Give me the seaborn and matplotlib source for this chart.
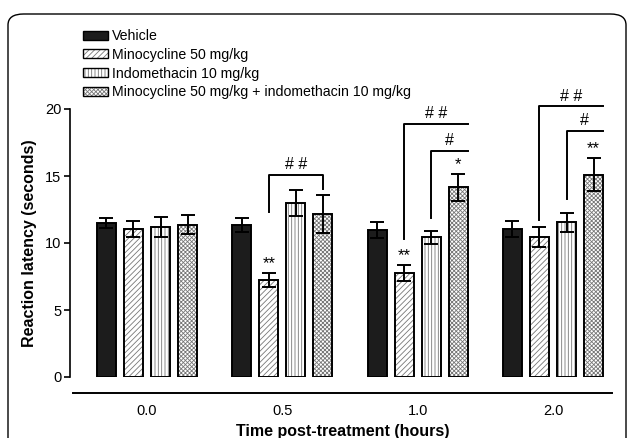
import matplotlib
matplotlib.use('Agg')
import matplotlib.pyplot as plt
import matplotlib.patches as mpatches
from matplotlib.colors import to_rgba
import numpy as np
import pandas as pd
import seaborn as sns

times = ['0.0', '0.5', '1.0', '2.0']
treatments = [
    'Vehicle',
    'Minocycline 50 mg/kg',
    'Indomethacin 10 mg/kg',
    'Minocycline 50 mg/kg + indomethacin 10 mg/kg',
]
vehicle = [11.5, 11.35, 10.98, 11.02]
vehicle_sem = [0.4, 0.5, 0.57, 0.6]
minocycline = [11.05, 7.25, 7.75, 10.45]
minocycline_sem = [0.62, 0.5, 0.6, 0.72]
indomethacin = [11.22, 12.97, 10.42, 11.55]
indomethacin_sem = [0.75, 0.95, 0.5, 0.72]
combination = [11.37, 12.15, 14.17, 15.1]
combination_sem = [0.7, 1.4, 1.0, 1.22]

# significance marks: (time index, treatment index, label)
stars = [(1, 1, '**'), (2, 1, '**'), (2, 3, '*'), (3, 3, '**')]
# brackets: (time index, from treatment, to treatment, line y, left leg bottom,
#            right leg bottom or None, label)
brackets = [
    (1, 1, 3, 15.1, 12.3, 14.0, '# #'),
    (2, 1, 3, 18.9, 10.3, None, '# #'),
    (2, 2, 3, 16.9, 11.85, None, '#'),
    (3, 1, 3, 20.2, 11.75, None, '# #'),
    (3, 2, 3, 18.35, 13.3, None, '#'),
]

colors = ['#1c1c1c', 'white', 'white', 'white']
hatches = ['', '//////', '|||||', 'xxxxxxxx']

plt.rcParams['font.family'] = ['Liberation Sans', 'DejaVu Sans']
plt.rcParams['hatch.linewidth'] = 0.6

rows = []
for t_i, t in enumerate(times):
    for k, (name, vals, errs) in enumerate(zip(
            treatments,
            [vehicle, minocycline, indomethacin, combination],
            [vehicle_sem, minocycline_sem, indomethacin_sem, combination_sem])):
        rows.append({'time': t, 'treatment': name,
                     'latency': vals[t_i], 'sem': errs[t_i]})
df = pd.DataFrame(rows)

fig = plt.figure(figsize=(6.27, 4.38), dpi=100)
ax = fig.add_axes([73 / 627, 1 - 377 / 438, (612 - 73) / 627, (377 - 109) / 438])

sns.barplot(data=df, x='time', y='latency', hue='treatment',
            hue_order=treatments, palette=colors, gap=0.3, width=0.8,
            errorbar=None, edgecolor='black', linewidth=1.4,
            legend=False, ax=ax)

bar_containers = list(ax.containers)
bar_x = {}
for k, container in enumerate(bar_containers):
    for t_i, bar in enumerate(container):
        bar.set_hatch(hatches[k])
        bar._hatch_color = to_rgba('#777777')
        bar_x[(t_i, k)] = (bar.get_x(), bar.get_width())
    sub = df[df['treatment'] == treatments[k]]
    xs = [bar.get_x() + bar.get_width() / 2 for bar in container]
    ax.errorbar(xs, sub['latency'], yerr=sub['sem'], fmt='none',
                ecolor='black', elinewidth=1.4, capsize=5, capthick=1.4,
                zorder=5)

def bar_center(t_i, k):
    x, w = bar_x[(t_i, k)]
    return x + w / 2

for t_i, k, label in stars:
    top = df[(df['time'] == times[t_i]) & (df['treatment'] == treatments[k])]
    y = top['latency'].iloc[0] + top['sem'].iloc[0]
    ax.text(bar_center(t_i, k), y + 0.15, label, ha='center', va='bottom',
            fontsize=12)

for t_i, k0, k1, y, leg0, leg1, label in brackets:
    x0 = bar_center(t_i, k0)
    if leg1 is None:
        x1 = bar_x[(t_i, k1)][0] + bar_x[(t_i, k1)][1]
        ax.plot([x0, x0, x1], [leg0, y, y], color='black', lw=1.4,
                clip_on=False)
    else:
        x1 = bar_center(t_i, k1)
        ax.plot([x0, x0, x1, x1], [leg0, y, y, leg1], color='black',
                lw=1.4, clip_on=False)
    ax.text((x0 + x1) / 2, y + 0.2, label, ha='center', va='bottom',
            fontsize=11.5, clip_on=False)

ax.set_ylim(0, 20)
ax.set_xlim(-0.547, 3.436)
ax.set_yticks([0, 5, 10, 15, 20])
for side in ['top', 'right']:
    ax.spines[side].set_visible(False)
ax.spines['bottom'].set_position(('outward', 11.5))
ax.spines['left'].set_position(('outward', 2.2))
ax.spines['left'].set_linewidth(1.2)
ax.spines['bottom'].set_linewidth(1.4)
ax.tick_params(axis='x', length=0, pad=8, labelsize=10.5)
ax.tick_params(axis='y', length=4, width=1.2, pad=2, labelsize=10.5)
ax.set_xlabel('Time post-treatment (hours)', fontsize=11.5,
              fontweight='bold', labelpad=4)
ax.set_ylabel('Reaction latency (seconds)', fontsize=11.5,
              fontweight='bold', labelpad=6)

handles = []
for name, c, h in zip(treatments, colors, hatches):
    p = mpatches.Patch(facecolor=c, edgecolor='black', hatch=h,
                       linewidth=1.0, label=name)
    handles.append(p)
leg = fig.legend(handles=handles, loc='upper left',
                 bbox_to_anchor=(83 / 627, 1 - 29 / 438), frameon=False,
                 fontsize=10.2, handlelength=1.75, handleheight=0.6,
                 handletextpad=0.3, labelspacing=0.34, borderpad=0,
                 borderaxespad=0)
for p in leg.get_patches():
    p._hatch_color = to_rgba('#777777')

frame = mpatches.FancyBboxPatch(
    (8 / 627, -0.2), (626 - 8) / 627, 1.2 - 14 / 438,
    boxstyle='round,pad=0,rounding_size=0.025',
    transform=fig.transFigure, facecolor='none', edgecolor='black',
    linewidth=1.0, clip_on=False)
fig.patches.append(frame)

fig.savefig('out.png', dpi=100)
